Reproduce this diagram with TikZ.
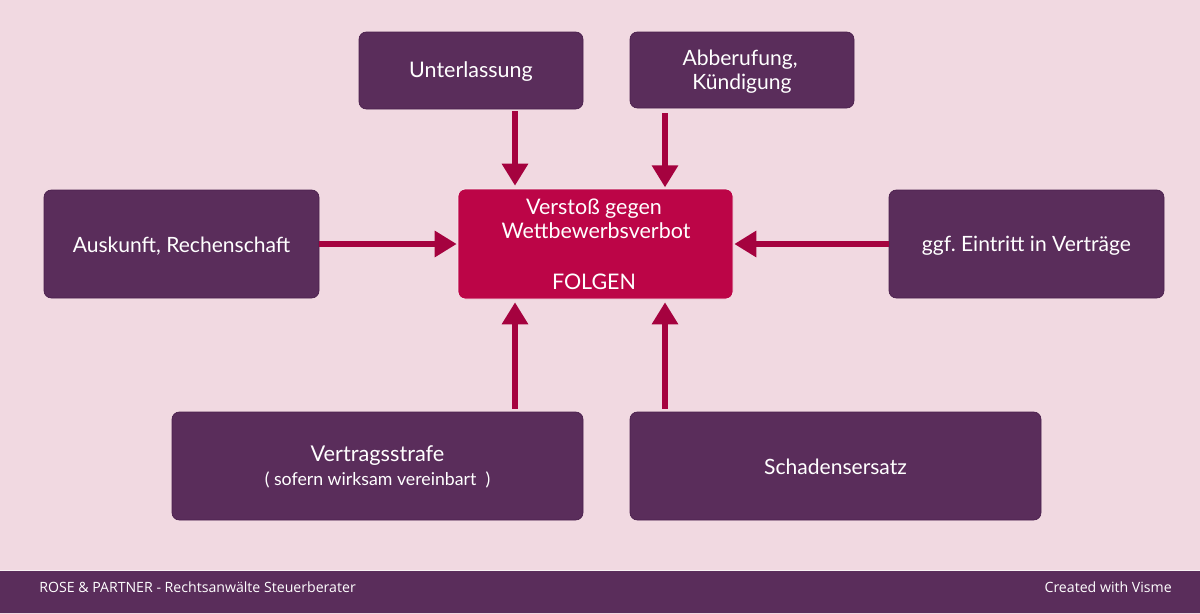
\documentclass[tikz,border=0pt]{standalone}
\usepackage{fontspec}
\setmainfont{Lato}
\newfontfamily\footfont{Open Sans}
\usetikzlibrary{arrows.meta}
\definecolor{bgpink}{HTML}{F1D9E1}
\definecolor{plum}{HTML}{5A2D5B}
\definecolor{plumedge}{HTML}{4A1F4D}
\definecolor{crim}{HTML}{BC0547}
\definecolor{arrowc}{HTML}{A5023F}
\newcommand{\dropped}[2][1.5pt]{\raisebox{-#1}[\height][\depth]{#2}}
\tikzset{
  x=0.75pt,y=-0.75pt,
  boxbase/.style={rectangle,rounded corners=5.5pt,align=center,text=white,inner sep=0pt,font=\fontsize{15.8}{18}\selectfont,line width=0.5pt},
  plumbox/.style={boxbase,fill=plum,draw=plumedge},
  hubbox/.style={boxbase,fill=crim,draw=white!50!bgpink},
  conn/.style={draw=arrowc,line width=3.9pt,-{Triangle[width=19pt,length=16.5pt]}},
  footlabel/.style={font=\footfont\fontsize{10.6}{12}\selectfont,text=white,inner sep=0pt}
}
\begin{document}
\begin{tikzpicture}
\useasboundingbox (0,0) rectangle (1200,614);
\fill[bgpink] (0,0) rectangle (1200,614);
\fill[plum] (0,571) rectangle (1200,612.5);
\draw[white!60!bgpink,line width=0.5pt] (0,570.5) -- (1200,570.5);

\node[plumbox,minimum width=168pt,minimum height=57.75pt] (unter) at (471,70.5) {\fontsize{16.1}{18}\selectfont\dropped[0.8pt]{Unterlassung}};
\node[plumbox,minimum width=168pt,minimum height=57pt] (abb) at (742,70) {\dropped{Abberufung,}\hspace*{3pt}\\\dropped{Kündigung}};
\node[hubbox,minimum width=206.25pt,minimum height=82.5pt] (hub) at (595.5,244) {};
\node[text=white,align=center,inner sep=0pt,font=\fontsize{16.1}{18}\selectfont,anchor=north] (hubtext) at (596,199) {Verstoß gegen\hspace*{3pt}\\Wettbewerbsverbot\\[19.8pt]FOLGEN\hspace*{3pt}};
\node[plumbox,minimum width=206.25pt,minimum height=81pt] (ausk) at (181.5,244) {\dropped{Auskunft, Rechenschaft}};
\node[plumbox,minimum width=206.25pt,minimum height=81pt] (ggf) at (1026.5,244) {\dropped{ggf.\ Eintritt in Verträge}};
\node[plumbox,minimum width=308.25pt,minimum height=81pt] (vert) at (377.5,466) {};
\node[text=white,inner sep=0pt,font=\fontsize{16.3}{19}\selectfont] (verta) at (377.5,455.5) {Vertragsstrafe};
\node[text=white,inner sep=0pt,font=\fontsize{13.3}{15}\selectfont] (vertb) at (377.5,480) {( sofern wirksam vereinbart~~)};
\node[plumbox,minimum width=308.25pt,minimum height=81pt] (schad) at (835.5,466) {\dropped[0.4pt]{Schadensersatz}};

\coordinate (xa) at (515,0);
\coordinate (xb) at (665,0);

\draw[conn,shorten <=1.5pt,shorten >=2.25pt] (unter.south -| xa) -- (hub.north -| xa);
\draw[conn,shorten <=3.75pt,shorten >=1pt] (abb.south -| xb) -- (hub.north -| xb);
\draw[conn,shorten >=0.75pt] (ausk.east) -- (hub.west);
\draw[conn,shorten >=0.75pt] (ggf.west) -- (hub.east);
\draw[conn,shorten <=2.25pt,shorten >=2.25pt] (vert.north -| xa) -- (hub.south -| xa);
\draw[conn,shorten <=2.25pt,shorten >=2.25pt] (schad.north -| xb) -- (hub.south -| xb);

\node[footlabel,anchor=west] (footl) at (39,587) {ROSE \& PARTNER - Rechtsanwälte Steuerberater};
\node[footlabel,anchor=east] (footr) at (1172,587) {Created with Visme};
\end{tikzpicture}
\end{document}
